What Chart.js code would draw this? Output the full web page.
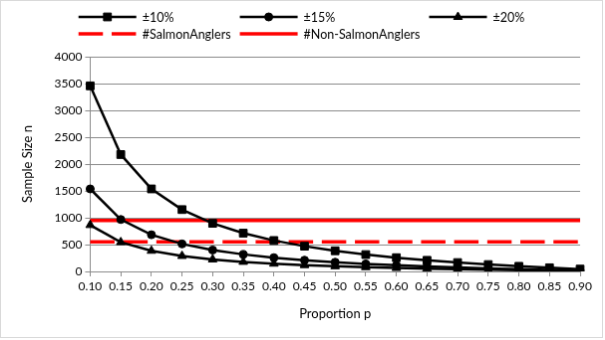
<!DOCTYPE html>
<html>
<head>
<meta charset="utf-8">
<script src="https://cdn.jsdelivr.net/npm/chart.js@4.4.1/dist/chart.umd.min.js"></script>
<style>
  body { margin: 0; background: #fff; }
  canvas { display: block; border: 1px solid #d9d9d9; }
</style>
</head>
<body>
<canvas id="myChart" width="603" height="338"></canvas>
<script>
// Datos
const proportions = ['0.10', '0.15', '0.20', '0.25', '0.30', '0.35', '0.40', '0.45', '0.50',
  '0.55', '0.60', '0.65', '0.70', '0.75', '0.80', '0.85', '0.90'];
const err10 = [3457, 2177, 1537, 1152, 896, 713, 576, 470, 384, 314, 256, 207, 165, 128, 96, 68, 43];
const err15 = [1537, 967, 683, 512, 398, 317, 256, 209, 171, 140, 114, 92, 73, 57, 43, 30, 19];
const err20 = [864, 544, 384, 288, 224, 178, 144, 117, 96, 79, 64, 52, 41, 32, 24, 17, 11];
const salmonAnglers = 550;
const nonSalmonAnglers = 950;
const seriesNames = ['±10%', '±15%', '±20%', '#SalmonAnglers', '#Non-SalmonAnglers'];

const FONT = 'Lato, "Liberation Sans", sans-serif';
const GRID = '#8c8c8c';

function blackSeries(label, values, style, radius) {
  return {
    label: label,
    data: values,
    borderColor: '#000',
    backgroundColor: '#000',
    borderWidth: 2.5,
    pointStyle: style,
    pointRadius: radius,
    pointBorderWidth: 1,
    tension: 0
  };
}

function flatSeries(label, value, dash) {
  return {
    label: label,
    data: proportions.map(() => value),
    borderColor: '#ff0000',
    backgroundColor: '#ff0000',
    borderWidth: 3.5,
    borderDash: dash,
    borderCapStyle: 'butt',
    pointRadius: 0,
    pointHoverRadius: 0
  };
}

// leyenda tipo Excel: columnas alineadas, linea + marcador
const excelLegend = {
  id: 'excelLegend',
  afterDraw(chart) {
    const ctx = chart.ctx;
    const ds = chart.data.datasets;
    const lineLen = 58, gap = 6, colGap = 9;
    const rows = [[0, 1, 2], [3, 4]];
    const rowY = [16, 33];
    ctx.save();
    ctx.font = '12.5px ' + FONT;
    const nCols = 3;
    const colW = [];
    for (let c = 0; c < nCols; c++) {
      let w = 0;
      rows.forEach(r => { if (r[c] !== undefined) w = Math.max(w, ctx.measureText(ds[r[c]].label).width); });
      colW.push(w);
    }
    let total = 0;
    colW.forEach((w, c) => { total += lineLen + gap + w + (c < nCols - 1 ? colGap : 0); });
    const colX = [];
    let x0 = (chart.width - total) / 2;
    colW.forEach(w => { colX.push(x0); x0 += lineLen + gap + w + colGap; });

    rows.forEach((r, ri) => {
      r.forEach((di, ci) => {
        const d = ds[di];
        const x = colX[ci], y = rowY[ri];
        ctx.beginPath();
        ctx.strokeStyle = d.borderColor;
        ctx.lineWidth = d.borderWidth;
        ctx.lineCap = 'butt';
        ctx.setLineDash(d.borderDash || []);
        ctx.moveTo(x, y);
        ctx.lineTo(x + lineLen, y);
        ctx.stroke();
        ctx.setLineDash([]);
        if (d.pointRadius) {
          ctx.fillStyle = d.backgroundColor;
          ctx.strokeStyle = d.borderColor;
          ctx.lineWidth = 1;
          Chart.helpers.drawPoint(ctx, { pointStyle: d.pointStyle, radius: d.pointRadius, rotation: 0, borderWidth: 1 }, x + lineLen / 2, y);
        }
        ctx.fillStyle = '#000';
        ctx.textBaseline = 'middle';
        ctx.textAlign = 'left';
        ctx.fillText(d.label, x + lineLen + gap, y + 1);
      });
    });
    ctx.restore();
  }
};

const data = {
  labels: proportions,
  datasets: [
    blackSeries(seriesNames[0], err10, 'rect', 5.5),
    blackSeries(seriesNames[1], err15, 'circle', 4),
    blackSeries(seriesNames[2], err20, 'triangle', 5),
    flatSeries(seriesNames[3], salmonAnglers, [24.5, 8.7]),
    flatSeries(seriesNames[4], nonSalmonAnglers, [])
  ]
};

const config = {
  type: 'line',
  data: data,
  options: {
    responsive: false,
    animation: false,
    layout: { padding: { top: 56, left: 15, right: 22, bottom: 11 } },
    plugins: {
      legend: { display: false },
      tooltip: { enabled: false }
    },
    scales: {
      x: {
        offset: false,
        grid: { display: true, drawOnChartArea: false, color: GRID, tickLength: 5 },
        border: { color: GRID },
        ticks: { color: '#000', font: { family: FONT, size: 12 }, padding: 3, maxRotation: 0, autoSkip: false },
        title: { display: true, text: 'Proportion p', color: '#000', font: { family: FONT, size: 13 }, padding: { top: 10, bottom: 4 } }
      },
      y: {
        min: 0,
        max: 4000,
        ticks: { stepSize: 500, color: '#000', font: { family: FONT, size: 12 }, padding: 3, callback: v => String(v) },
        grid: { color: GRID, tickLength: 5 },
        border: { color: GRID },
        title: { display: true, text: 'Sample Size n', color: '#000', font: { family: FONT, size: 13 }, padding: { top: 4, bottom: 16 } }
      }
    }
  },
  plugins: [excelLegend]
};

const myChart = new Chart(document.getElementById('myChart').getContext('2d'), config);
</script>
</body>
</html>
